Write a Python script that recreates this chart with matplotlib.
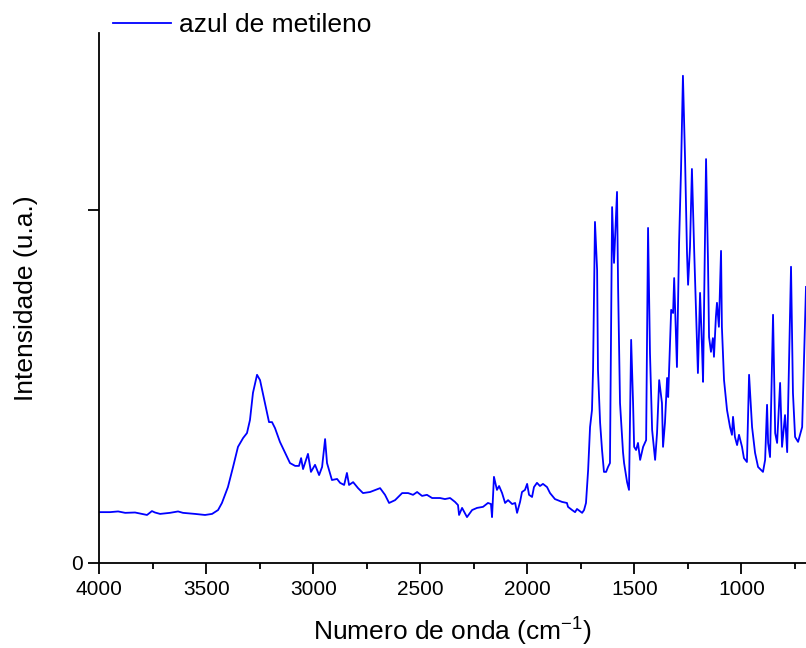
import matplotlib
matplotlib.use("Agg")
import matplotlib.pyplot as plt
from matplotlib.ticker import MultipleLocator

plt.rcParams['font.family'] = ['Liberation Sans', 'DejaVu Sans']
plt.rcParams['mathtext.fontset'] = 'custom'
plt.rcParams['mathtext.rm'] = 'Liberation Sans'
plt.rcParams['mathtext.it'] = 'Liberation Sans'

# wavenumber (cm-1) and intensity (a.u.)
wavenumber = [4000, 3950, 3912, 3879, 3833, 3777, 3754, 3740, 3716, 3670, 3632, 3609,
              3553, 3506, 3473, 3445, 3427, 3399, 3375, 3352, 3328, 3310, 3296, 3282,
              3263, 3249, 3226, 3207, 3193, 3179, 3156, 3109, 3085, 3067, 3057, 3048,
              3025, 3011, 2992, 2973, 2959, 2945, 2936, 2913, 2889, 2875, 2856, 2843,
              2833, 2814, 2791, 2768, 2735, 2688, 2665, 2646, 2618, 2585, 2557, 2534,
              2515, 2492, 2469, 2445, 2408, 2385, 2361, 2338, 2324, 2319, 2305, 2282,
              2258, 2235, 2207, 2184, 2170, 2165, 2156, 2142, 2132, 2118, 2104, 2090,
              2071, 2057, 2048, 2034, 2025, 2011, 2001, 1992, 1978, 1969, 1955, 1941,
              1927, 1908, 1894, 1871, 1838, 1815, 1810, 1791, 1777, 1768, 1744, 1735,
              1726, 1716, 1707, 1698, 1693, 1684, 1674, 1670, 1660, 1651, 1642, 1632,
              1623, 1614, 1604, 1595, 1581, 1576, 1567, 1553, 1548, 1534, 1525, 1515,
              1506, 1501, 1492, 1483, 1473, 1459, 1445, 1436, 1427, 1417, 1403, 1394,
              1384, 1371, 1366, 1357, 1347, 1342, 1328, 1319, 1314, 1301, 1291, 1282,
              1273, 1263, 1254, 1249, 1240, 1231, 1221, 1207, 1203, 1193, 1184, 1179,
              1165, 1156, 1151, 1142, 1133, 1128, 1119, 1114, 1105, 1095, 1091, 1081,
              1067, 1053, 1044, 1039, 1030, 1020, 1011, 997, 988, 974, 964, 950,
              936, 922, 899, 889, 880, 875, 866, 852, 842, 833, 819, 810,
              796, 786, 768, 759, 749, 735, 716, 698]
intensity = [0.144, 0.144, 0.146, 0.142, 0.143, 0.136, 0.147, 0.143, 0.139, 0.142, 0.146, 0.142,
             0.139, 0.136, 0.139, 0.150, 0.170, 0.215, 0.272, 0.329, 0.354, 0.368, 0.405, 0.482,
             0.533, 0.518, 0.453, 0.399, 0.399, 0.382, 0.343, 0.283, 0.275, 0.275, 0.297, 0.266,
             0.309, 0.258, 0.278, 0.249, 0.272, 0.351, 0.283, 0.235, 0.238, 0.227, 0.221, 0.255,
             0.221, 0.229, 0.212, 0.198, 0.201, 0.212, 0.193, 0.170, 0.178, 0.198, 0.198, 0.193,
             0.201, 0.190, 0.193, 0.184, 0.184, 0.181, 0.184, 0.173, 0.164, 0.136, 0.156, 0.130,
             0.150, 0.156, 0.159, 0.170, 0.167, 0.130, 0.244, 0.207, 0.218, 0.198, 0.170, 0.178,
             0.167, 0.170, 0.142, 0.173, 0.201, 0.207, 0.224, 0.193, 0.187, 0.215, 0.227, 0.218,
             0.224, 0.215, 0.198, 0.181, 0.173, 0.170, 0.159, 0.150, 0.144, 0.153, 0.142, 0.150,
             0.170, 0.263, 0.385, 0.433, 0.547, 0.966, 0.830, 0.547, 0.397, 0.320, 0.258, 0.258,
             0.272, 0.283, 1.008, 0.850, 1.051, 0.782, 0.453, 0.314, 0.283, 0.229, 0.207, 0.632,
             0.453, 0.329, 0.320, 0.340, 0.292, 0.329, 0.348, 0.949, 0.595, 0.377, 0.292, 0.368,
             0.518, 0.453, 0.329, 0.397, 0.524, 0.470, 0.717, 0.708, 0.807, 0.555, 0.907, 1.113,
             1.380, 1.142, 0.878, 0.788, 0.895, 1.116, 0.895, 0.623, 0.538, 0.765, 0.612, 0.513,
             1.144, 0.858, 0.640, 0.598, 0.637, 0.584, 0.697, 0.737, 0.669, 0.884, 0.669, 0.518,
             0.433, 0.385, 0.363, 0.414, 0.357, 0.334, 0.363, 0.329, 0.297, 0.286, 0.533, 0.385,
             0.312, 0.272, 0.258, 0.292, 0.448, 0.340, 0.300, 0.703, 0.368, 0.340, 0.510, 0.329,
             0.419, 0.314, 0.839, 0.482, 0.357, 0.343, 0.385, 0.782]

fig = plt.figure(figsize=(8.06, 6.48), dpi=100)
ax = fig.add_axes([0.1232, 0.1312, 0.8768, 0.8178])

ax.plot(wavenumber, intensity, color='#0000ff', lw=1.3, label='azul de metileno')

ax.set_xlim(4000, 698)
ax.set_ylim(0, 1.501)
ax.xaxis.set_major_locator(MultipleLocator(500))
ax.xaxis.set_minor_locator(MultipleLocator(250))
ax.set_yticks([0, 1])
ax.set_yticklabels(['0', ''])

for side in ['top', 'right']:
    ax.spines[side].set_visible(False)
for side in ['left', 'bottom']:
    ax.spines[side].set_linewidth(1.3)

ax.tick_params(axis='both', which='major', direction='out', length=8, width=1.3,
               labelsize=15, pad=4)
ax.tick_params(axis='both', which='minor', direction='out', length=4, width=1.3)

ax.set_xlabel('Numero de onda (cm$^{-1}$)', fontsize=19, labelpad=12)
ax.set_ylabel('Intensidade (u.a.)', fontsize=19)
ax.yaxis.set_label_coords(-0.087, 0.5)

ax.legend(loc='center left', bbox_to_anchor=(0.019, 1.015), frameon=False,
          fontsize=19, handlelength=2.2, handletextpad=0.3,
          borderpad=0, borderaxespad=0)

fig.savefig('out.png', dpi=100)
